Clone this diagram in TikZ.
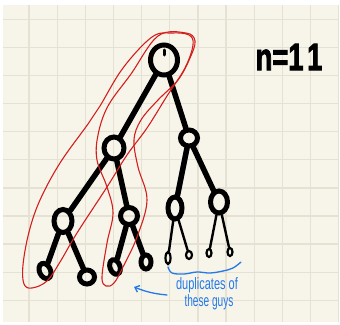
\documentclass[tikz,border=0pt]{standalone}
\usepackage{fontspec}
\setmainfont{Liberation Sans}
\newfontfamily\handfont[BoldFeatures={FakeBold=2.5}]{Liberation Sans}
\usetikzlibrary{shapes.geometric,arrows.meta}
\definecolor{paper}{HTML}{F7F5EA}
\definecolor{gridc}{HTML}{E5E2D4}
\definecolor{redpen}{HTML}{D41E1E}
\definecolor{bluepen}{HTML}{2479E8}
\tikzset{
  tn/.style={ellipse, draw=black, line width=5pt, inner sep=0pt},
  tl/.style={ellipse, draw=black, line width=2.2pt, inner sep=0pt},
  tedge/.style={line width=5.5pt, line cap=round},
  thinedge/.style={line width=2.4pt, line cap=round},
  redloop/.style={draw=redpen, line width=1.1pt},
  bluestroke/.style={draw=bluepen, line width=1.3pt, line cap=round},
  bluetext/.style={text=bluepen, font=\fontsize{11}{12}\selectfont, inner sep=0pt},
}
\begin{document}
\begin{tikzpicture}[x=1pt,y=-1pt]
\useasboundingbox (0,0) rectangle (340,324);
\fill[white] (0,0) rectangle (340,324);
\fill[paper] (3,5) rectangle (339,322);
\begin{scope}
\clip (3,5) rectangle (339,322);
\foreach \i in {0,...,11} {
  \draw[gridc, line width=1.3pt] (29+28.15*\i,5) -- (29+28.15*\i,322);
}
\foreach \j in {0,...,10} {
  \draw[gridc, line width=1.3pt] (3,19.3+28.1*\j) -- (339,19.3+28.1*\j);
}
\end{scope}

% nodes
\node[tn, minimum width=27pt, minimum height=30pt] (root) at (164,60) {};
\node[tn, minimum width=20pt, minimum height=22pt] (L) at (114,148) {};
\node[tn, minimum width=17pt, minimum height=16pt] (R) at (189,138) {};
\node[tn, minimum width=18pt, minimum height=23pt] (LL) at (63,221) {};
\node[tn, minimum width=17pt, minimum height=17pt] (LR) at (129,216) {};
\node[tn, minimum width=14pt, minimum height=22pt] (RL) at (175,208) {};
\node[tn, minimum width=17pt, minimum height=22pt] (RR) at (219,202) {};
\node[tn, minimum width=11pt, minimum height=16pt, rotate=25] (LLL) at (45,271) {};
\node[tn, minimum width=15pt, minimum height=14pt] (LLR) at (87,277) {};
\node[tn, minimum width=10pt, minimum height=15pt, rotate=20] (LRL) at (115,267) {};
\node[tn, minimum width=10pt, minimum height=14pt] (LRR) at (146,262) {};
\node[tl, minimum width=5pt, minimum height=12pt] (RLL) at (168,258) {};
\node[tl, minimum width=6pt, minimum height=8pt] (RLR) at (189,255) {};
\node[tl, minimum width=5pt, minimum height=8pt] (RRL) at (209,253) {};
\node[tl, minimum width=5pt, minimum height=8pt] (RRR) at (230,252) {};

\draw[line width=3pt, line cap=round] (root.center) ++(0,-10) -- ++(0,5);

% edges
\draw[tedge] (root) -- (L);
\draw[tedge] (root) -- (R);
\draw[tedge] (L) -- (LL);
\draw[tedge] (L) -- (LR);
\draw[tedge] (R) -- (RL);
\draw[tedge] (R) -- (RR);
\draw[tedge] (LL) -- (LLL);
\draw[tedge] (LL) -- (LLR);
\draw[tedge] (LR) -- (LRL);
\draw[tedge] (LR) -- (LRR);
\draw[thinedge] (RL) -- (RLL);
\draw[thinedge] (RL) -- (RLR);
\draw[thinedge] (RR) -- (RRL);
\draw[thinedge] (RR) -- (RRR);

% red loops
\draw[redloop] plot[smooth cycle, tension=0.6] coordinates {
  (152,37) (123,68) (100,106) (88,124) (60,163) (40,200) (29,232) (23,265) (24,284) (32,288)
  (47,281) (60,262) (77,233) (107,187) (127,155) (147,128) (167,96) (185,68) (193,45) (189,35) (172,33)};
\draw[redloop] plot[smooth cycle, tension=0.6] coordinates {
  (158,36) (131,74) (108,106) (98,135) (97,160) (107,187) (113,213) (107,243) (102,277) (106,286) (114,283)
  (123,267) (137,237) (147,200) (138,167) (134,140) (141,120) (158,100) (178,80) (190,58) (195,41) (186,33)};

% n=11
\node[font=\handfont\bfseries\fontsize{38}{40}\selectfont, inner sep=0pt] (ntext) at (289,57) {\scalebox{0.72}[1]{n=1\hspace{5pt}1}};

% blue annotation
\draw[bluestroke] plot[smooth, tension=0.6] coordinates {(168,267) (172,273) (184,274) (197,272) (210,273) (223,271) (233,268) (241,262)};
\coordinate (arrS) at (167,295);
\coordinate (arrE) at (134,287);
\draw[bluestroke, -{Straight Barb[length=4pt,width=7pt]}] (arrS) to[bend left=8] (arrE);
\node[bluetext] (dup) at (207,285) {\scalebox{1}[1.5]{duplicates of}};
\node[bluetext] (guys) at (209,302) {\scalebox{0.92}[1.5]{these guys}};
\end{tikzpicture}
\end{document}
